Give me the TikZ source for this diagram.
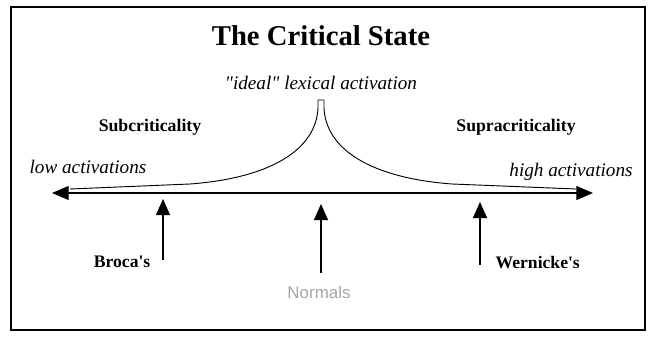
\documentclass[tikz,border=0pt]{standalone}
\usepackage{fontspec}
\setmainfont{Liberation Serif}
\newfontfamily\plainsans{Liberation Sans}
\usetikzlibrary{arrows.meta}

\begin{document}
\begin{tikzpicture}[
  x=0.75pt, y=-0.75pt,
  frame/.style={draw=black, line width=1.6pt},
  title/.style={font=\fontsize{21.5}{24}\selectfont\bfseries},
  regime/.style={font=\fontsize{13.3}{16}\selectfont\bfseries},
  extreme/.style={font=\fontsize{14.4}{16}\selectfont\itshape},
  patient/.style={font=\fontsize{13.2}{16}\selectfont\bfseries},
  axis/.style={line width=0.8pt, {Triangle[length=12.5pt, width=10.5pt]}-{Triangle[length=12.5pt, width=10.5pt]}},
  curve/.style={line width=0.7pt},
  up/.style={line width=0.8pt, -{Triangle[length=12pt, width=10.5pt]}}
]
\useasboundingbox (0,0) rectangle (655,338);

%% ---------- frame and title ----------
\draw[frame] (11,7) rectangle (645,330);
\node[title] (head) at (321,36) {The Critical State};

%% ---------- labels above the axis ----------
\node[extreme] (ideal) at (321,83) {\textquotedbl ideal\textquotedbl{} lexical activation};
\node[regime] (sub)   at (150,127) {Subcriticality};
\node[regime] (supra) at (516,127) {Supracriticality};
\node[extreme] (low)  at (88,167)  {low activations};
\node[extreme] (high) at (571,172) {high activations};

%% ---------- axis and activation curve ----------
\coordinate (lowtip)  at (52,193);
\coordinate (hightip) at (593,193);
\draw[axis] (lowtip) -- (hightip);

\draw[curve] (70,189) -- (190,184) .. controls (270,178) and (316,150) .. (318,108)
  -- (318,100) -- (324,100) -- (324,108)
  .. controls (326,150) and (372,178) .. (452,184) -- (576,189);

%% ---------- patient groups ----------
\coordinate (brocatip) at (163,199);
\coordinate (brocabot) at (163,260);
\draw[up] (brocabot) -- (brocatip);
\node[patient, anchor=east] (broca) at (155,262) {Broca\textquotesingle s};

\node[font=\fontsize{12.7}{16}\selectfont\plainsans, text=black!35] (normals) at (319,292) {Normals};
\coordinate (normtip) at (321,204);
\draw[up] ([yshift=6pt]normals.north -| normtip) -- (normtip);

\coordinate (werntip) at (480,202);
\coordinate (wernbot) at (480,265);
\draw[up] (wernbot) -- (werntip);
\node[patient, anchor=west] (wern) at (491,263) {Wernicke\textquotesingle s};

\end{tikzpicture}
\end{document}
